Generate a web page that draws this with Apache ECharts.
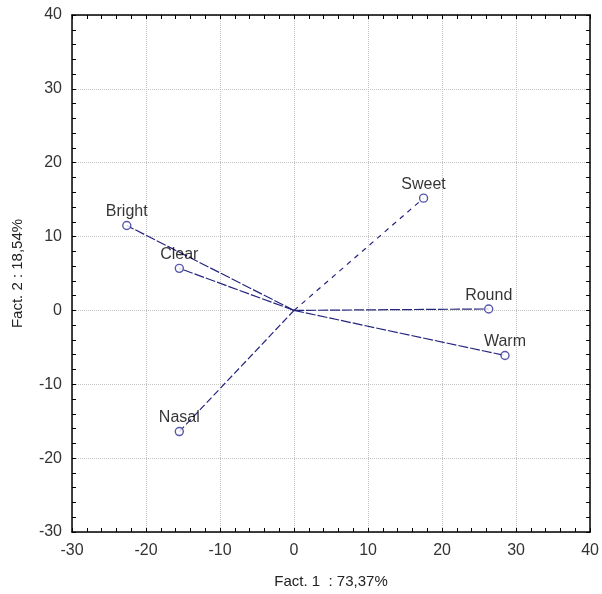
<!DOCTYPE html>
<html>
<head>
<meta charset="utf-8">
<script src="https://cdn.jsdelivr.net/npm/echarts@6/dist/echarts.min.js"></script>
<style>
html,body{margin:0;padding:0;background:#fff;}
#chart{width:602px;height:594px;}
</style>
</head>
<body>
<div id="chart"></div>
<script>
var names = ['Bright', 'Clear', 'Sweet', 'Round', 'Warm', 'Nasal'];
var fact1 = [-22.6, -15.5, 17.5, 26.3, 28.5, -15.5];
var fact2 = [11.5, 5.7, 15.2, 0.2, -6.1, -16.4];
var lineDash = [[10, 2], [10, 2], [5, 5], [10, 2], [10, 2], [7, 3]];
var xTitle = 'Fact. 1  : 73,37%';
var yTitle = 'Fact. 2 : 18,54%';

var lineColor = '#24247e';
var font = 'Liberation Sans, Arial, sans-serif';

function axisBase(extra) {
  var a = {
    type: 'value', min: -30, max: 40, interval: 10,
    axisLine: { show: true, onZero: false, lineStyle: { color: '#000', width: 1.5 } },
    axisTick: { show: true, inside: true, length: 4, lineStyle: { color: '#000', width: 1 } },
    minorTick: { show: true, splitNumber: 5, length: 4, lineStyle: { color: '#000', width: 1 } },
    splitLine: { show: false },
    axisLabel: { show: false }
  };
  for (var k in extra) a[k] = extra[k];
  return a;
}

var series = [];
for (var i = 0; i < names.length; i++) {
  series.push({
    type: 'line',
    data: [[0, 0], [fact1[i], fact2[i]]],
    showSymbol: false,
    symbol: 'none',
    silent: true,
    animation: false,
    lineStyle: { color: lineColor, width: 1.2, type: lineDash[i] },
    z: 2
  });
}
var pts = names.map(function (n, i) { return { name: n, value: [fact1[i], fact2[i]] }; });
series.push({
  type: 'scatter',
  data: pts,
  symbol: 'circle',
  symbolSize: 8,
  itemStyle: { color: '#fff', borderColor: '#2e2e96', borderWidth: 1.4 },
  label: {
    show: true, position: 'top', distance: 1,
    formatter: function (p) { return p.name; },
    color: '#000', fontSize: 16, fontFamily: font
  },
  animation: false,
  z: 3
});

var chart = echarts.init(document.getElementById('chart'));
chart.setOption({
  backgroundColor: '#fff',
  animation: false,
  grid: { left: 72, right: 10, top: 15, bottom: 61 },
  xAxis: [
    axisBase({
      position: 'bottom',
      name: xTitle, nameLocation: 'middle', nameGap: 42,
      nameTextStyle: { color: '#222', fontSize: 15, fontFamily: font },
      axisLabel: { show: true, margin: 11, color: '#333', fontSize: 16, fontFamily: font },
      splitLine: { show: true, lineStyle: { color: '#c4c4c4', type: [1, 1], width: 1 } }
    }),
    axisBase({ position: 'top' })
  ],
  yAxis: [
    axisBase({
      position: 'left',
      name: yTitle, nameLocation: 'middle', nameGap: 47, nameRotate: 90,
      nameTextStyle: { color: '#222', fontSize: 15, fontFamily: font },
      axisLabel: { show: true, margin: 10, color: '#333', fontSize: 16, fontFamily: font },
      splitLine: { show: true, lineStyle: { color: '#c4c4c4', type: [1, 1], width: 1 } }
    }),
    axisBase({ position: 'right' })
  ],
  series: series
});
</script>
</body>
</html>
